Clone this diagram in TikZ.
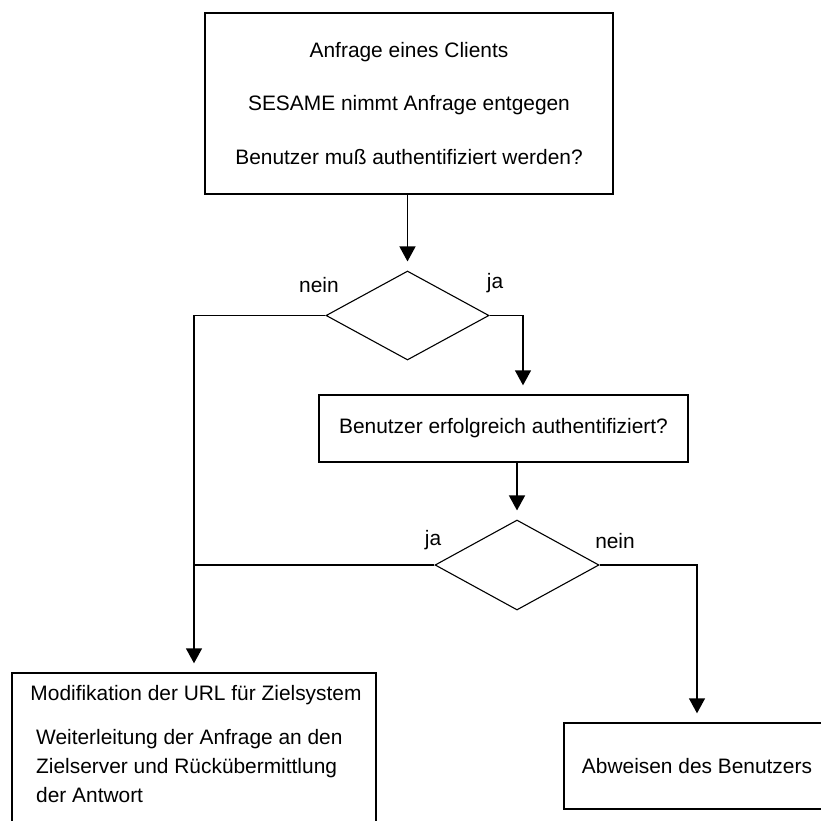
\documentclass[tikz,border=0pt]{standalone}
\usepackage{fontspec}
\setmainfont{Liberation Sans}
\usetikzlibrary{arrows.meta,shapes.geometric}

\tikzset{
	box/.style={draw, rectangle, line width=1.4pt, inner sep=0pt},
	decision/.style={draw, diamond, line width=1.1pt, inner sep=0pt},
	flow/.style={line width=1.4pt, -{Triangle[width=16pt,length=15pt]}, shorten >=9pt},
	link/.style={line width=1.4pt}
}

\begin{document}
\begin{tikzpicture}[x=1pt, y=-1pt, every node/.style={font=\fontsize{20.9}{25}\selectfont}]
\useasboundingbox (0,0) rectangle (821,821);

\node[box, minimum width=408, minimum height=181, align=center,
	font=\fontsize{20.9}{53.5}\selectfont] (request) at (409, 103.5)
	{Anfrage eines Clients\\SESAME nimmt Anfrage entgegen\\Benutzer muß authentifiziert werden?};
\node[decision, minimum width=163, minimum height=89] (d1) at (407.5, 315.5) {};
\node[box, minimum width=369, minimum height=67] (auth) at (503.5, 428.5)
	{Benutzer erfolgreich authentifiziert?};
\node[decision, minimum width=164, minimum height=90] (d2) at (517, 565) {};
\node[box, minimum width=364, minimum height=167] (forward) at (194, 756.5) {};
\node[box, minimum width=266, minimum height=86] (reject) at (697, 766) {Abweisen des Benutzers};

\node (modtext) at (196, 695) {Modifikation der URL für Zielsystem};
\node[anchor=west, align=left, inner sep=0pt, font=\fontsize{20.9}{29}\selectfont] (fwdtext) at (36, 766)
	{Weiterleitung der Anfrage an den\\Zielserver und Rückübermittlung\\der Antwort};

\foreach \lname/\xa/\ya/\txt in {n1/319/285/nein, j1/495/283/ja, j2/433/540/ja, n2/615/541/nein} {
	\node (\lname) at (\xa, \ya) {\txt};
}

\draw[flow] (d1.north |- request.south) -- (d1.north);
\draw[flow] (d1.east) -| ([xshift=19.5pt]auth.north);
\draw[flow] (d1.west) -| (forward.north);
\draw[flow] (auth.south -| d2.north) -- (d2.north);
\draw[link] (d2.west) -- (d2.west -| forward.north);
\draw[flow] (d2.east) -| (reject.north);

\end{tikzpicture}
\end{document}
